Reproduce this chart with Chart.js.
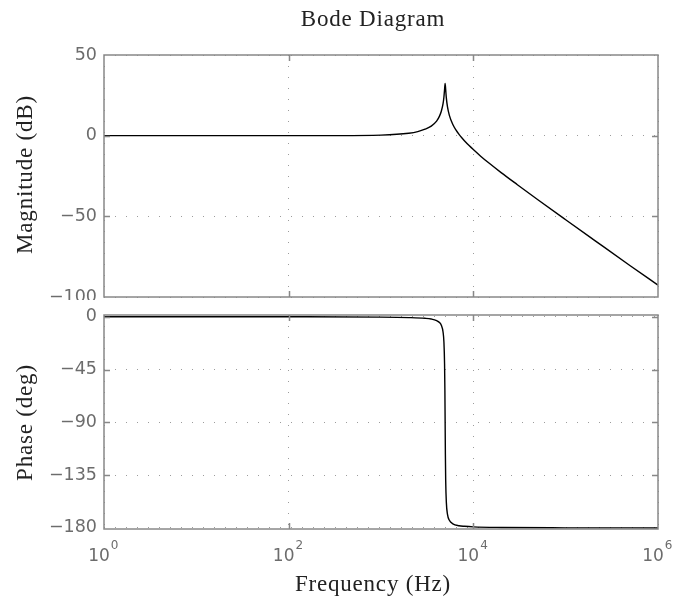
<!DOCTYPE html>
<html>
<head>
<meta charset="utf-8">
<title>Bode Diagram</title>
<script src="https://cdn.jsdelivr.net/npm/chart.js@4.4.1/dist/chart.umd.min.js"></script>
<style>
  body { margin: 0; background: #fff; }
  #page { position: relative; width: 674px; height: 600px; overflow: hidden; background: #fff; }
  canvas { position: absolute; left: 0; }
  #magCanvas { top: 0; }
  #phaseCanvas { top: 300px; }
  .serif {
    position: absolute;
    font-family: "Liberation Serif", serif;
    font-size: 23px;
    line-height: 23px;
    letter-spacing: 0.8px;
    color: #222;
    text-align: center;
    white-space: nowrap;
  }
  #title { left: 173px; width: 400px; top: 7px; }
  #xTitle { left: 173px; width: 400px; top: 572px; }
  .ytitle { width: 300px; height: 23px; transform: rotate(-90deg); }
  #magTitle { left: -126px; top: 163px; }
  #phaseTitle { left: -126px; top: 411px; }
</style>
</head>
<body>
<div id="page">
  <canvas id="magCanvas" width="674" height="300"></canvas>
  <canvas id="phaseCanvas" width="674" height="300"></canvas>
  <div id="title" class="serif">Bode Diagram</div>
  <div id="xTitle" class="serif">Frequency (Hz)</div>
  <div id="magTitle" class="serif ytitle">Magnitude (dB)</div>
  <div id="phaseTitle" class="serif ytitle">Phase (deg)</div>
</div>
<script>
// Magnitude response
const magFreq = [1, 10, 100, 300, 1000, 2000, 2500, 3000, 3500, 4000, 4300, 4500, 4700, 4800, 4880, 4950, 5020, 5100, 5250, 5500, 6000, 6500, 7000, 7500, 8000, 9000, 10000, 12000, 15000, 20000, 30000, 50000, 100000, 200000, 500000, 1000000];
const magDb = [0, 0, 0, 0.03, 0.36, 1.5, 2.5, 4.0, 5.9, 9.0, 12.1, 15.1, 19.8, 23.8, 28.6, 32.4, 28.4, 23.4, 17.8, 12.6, 6.9, 3.4, 0.8, -1.3, -3.1, -6.1, -8.6, -12.7, -17.3, -22.9, -30.4, -39.7, -52.1, -64.4, -80.6, -92.6];

// Phase response
const phaseFreq = [1, 100, 1000, 2000, 3000, 3500, 4000, 4300, 4500, 4700, 4800, 4880, 4920, 4950, 4980, 5020, 5100, 5250, 5500, 6000, 7000, 8000, 10000, 20000, 100000, 1000000];
const phaseDeg = [0, -0.03, -0.3, -0.7, -1.3, -1.9, -3.2, -4.9, -7.2, -13, -21.3, -40.2, -63, -90, -117, -139.5, -158, -168.5, -173.5, -176.5, -178.1, -178.6, -179.1, -179.6, -179.9, -180];

// Axis ticks
const freqTicks = [1, 100, 10000, 1000000];
const magTicks = [-100, -50, 0, 50];
const phaseTicks = [-180, -135, -90, -45, 0];

const tickColor = '#6c6c6c';
const gridColor = '#9c9c9c';
const frameColor = '#888888';

Chart.defaults.font.family = '"DejaVu Sans", sans-serif';

function minusLabel(v) {
  return v < 0 ? '\u2212' + Math.abs(v) : String(v);
}

// box around the plot area with MATLAB style inward ticks
const framePlugin = {
  id: 'frame',
  afterDraw(chart) {
    const { ctx, chartArea: a, scales } = chart;
    ctx.save();
    ctx.strokeStyle = frameColor;
    ctx.lineWidth = 1.5;
    ctx.strokeRect(a.left, a.top, a.right - a.left, a.bottom - a.top);
    ctx.beginPath();
    freqTicks.forEach(v => {
      const px = Math.round(scales.x.getPixelForValue(v)) + 0.5;
      if (px < a.left + 2 || px > a.right - 2) return;
      ctx.moveTo(px, a.bottom); ctx.lineTo(px, a.bottom - 6);
      ctx.moveTo(px, a.top); ctx.lineTo(px, a.top + 6);
    });
    scales.y.ticks.forEach(t => {
      const py = Math.round(scales.y.getPixelForValue(t.value)) + 0.5;
      if (py < a.top + 2 || py > a.bottom - 2) return;
      ctx.moveTo(a.left, py); ctx.lineTo(a.left + 6, py);
      ctx.moveTo(a.right, py); ctx.lineTo(a.right - 6, py);
    });
    ctx.stroke();
    ctx.restore();
  }
};

// 10^n labels under the phase plot
const decadePlugin = {
  id: 'decades',
  afterDraw(chart) {
    const { ctx, scales: { x } } = chart;
    ctx.save();
    ctx.fillStyle = tickColor;
    ctx.textBaseline = 'alphabetic';
    freqTicks.forEach(v => {
      const px = x.getPixelForValue(v) - 5;
      ctx.font = '17px "DejaVu Sans"';
      ctx.textAlign = 'center';
      ctx.fillText('10', px, 261);
      const w = ctx.measureText('10').width;
      ctx.font = '12px "DejaVu Sans"';
      ctx.textAlign = 'left';
      ctx.fillText(String(Math.round(Math.log10(v))), px + w / 2 + 1, 249);
    });
    ctx.restore();
  }
};

function xScale() {
  return {
    type: 'logarithmic',
    position: 'bottom',
    min: 1,
    max: 1000000,
    afterBuildTicks: s => { s.ticks = freqTicks.map(v => ({ value: v })); },
    afterFit: s => { s.height = 0; s.paddingLeft = 0; s.paddingRight = 0; },
    ticks: { display: false },
    grid: { color: gridColor, lineWidth: 1, drawTicks: false },
    border: { display: false, dash: [1, 10] }
  };
}

function yScale(min, max, ticks) {
  return {
    type: 'linear',
    min: min,
    max: max,
    afterBuildTicks: s => { s.ticks = ticks.map(v => ({ value: v })); },
    afterFit: s => { s.width = 104; s.paddingTop = 0; s.paddingBottom = 0; },
    ticks: {
      color: tickColor,
      font: { size: 17.5 },
      padding: 7,
      callback: v => minusLabel(v)
    },
    grid: { color: gridColor, lineWidth: 1, drawTicks: false },
    border: { display: false, dash: [1, 10] }
  };
}

function lineSet(freq, vals) {
  return {
    data: freq.map((f, i) => ({ x: f, y: vals[i] })),
    borderColor: '#000',
    borderWidth: 1.4,
    pointRadius: 0,
    fill: false,
    cubicInterpolationMode: 'monotone'
  };
}

const common = {
  responsive: false,
  animation: false,
  plugins: { legend: { display: false }, tooltip: { enabled: false }, title: { display: false } }
};

new Chart(document.getElementById('magCanvas'), {
  type: 'line',
  data: { datasets: [lineSet(magFreq, magDb)] },
  options: Object.assign({}, common, {
    layout: { padding: { top: 55, right: 16, bottom: 3, left: 0 } },
    scales: { x: xScale(), y: yScale(-100, 50, magTicks) }
  }),
  plugins: [framePlugin]
});

new Chart(document.getElementById('phaseCanvas'), {
  type: 'line',
  data: { datasets: [lineSet(phaseFreq, phaseDeg)] },
  options: Object.assign({}, common, {
    layout: { padding: { top: 15, right: 16, bottom: 71, left: 0 } },
    scales: { x: xScale(), y: yScale(-180.9, 1.5, phaseTicks) }
  }),
  plugins: [framePlugin, decadePlugin]
});
</script>
</body>
</html>
